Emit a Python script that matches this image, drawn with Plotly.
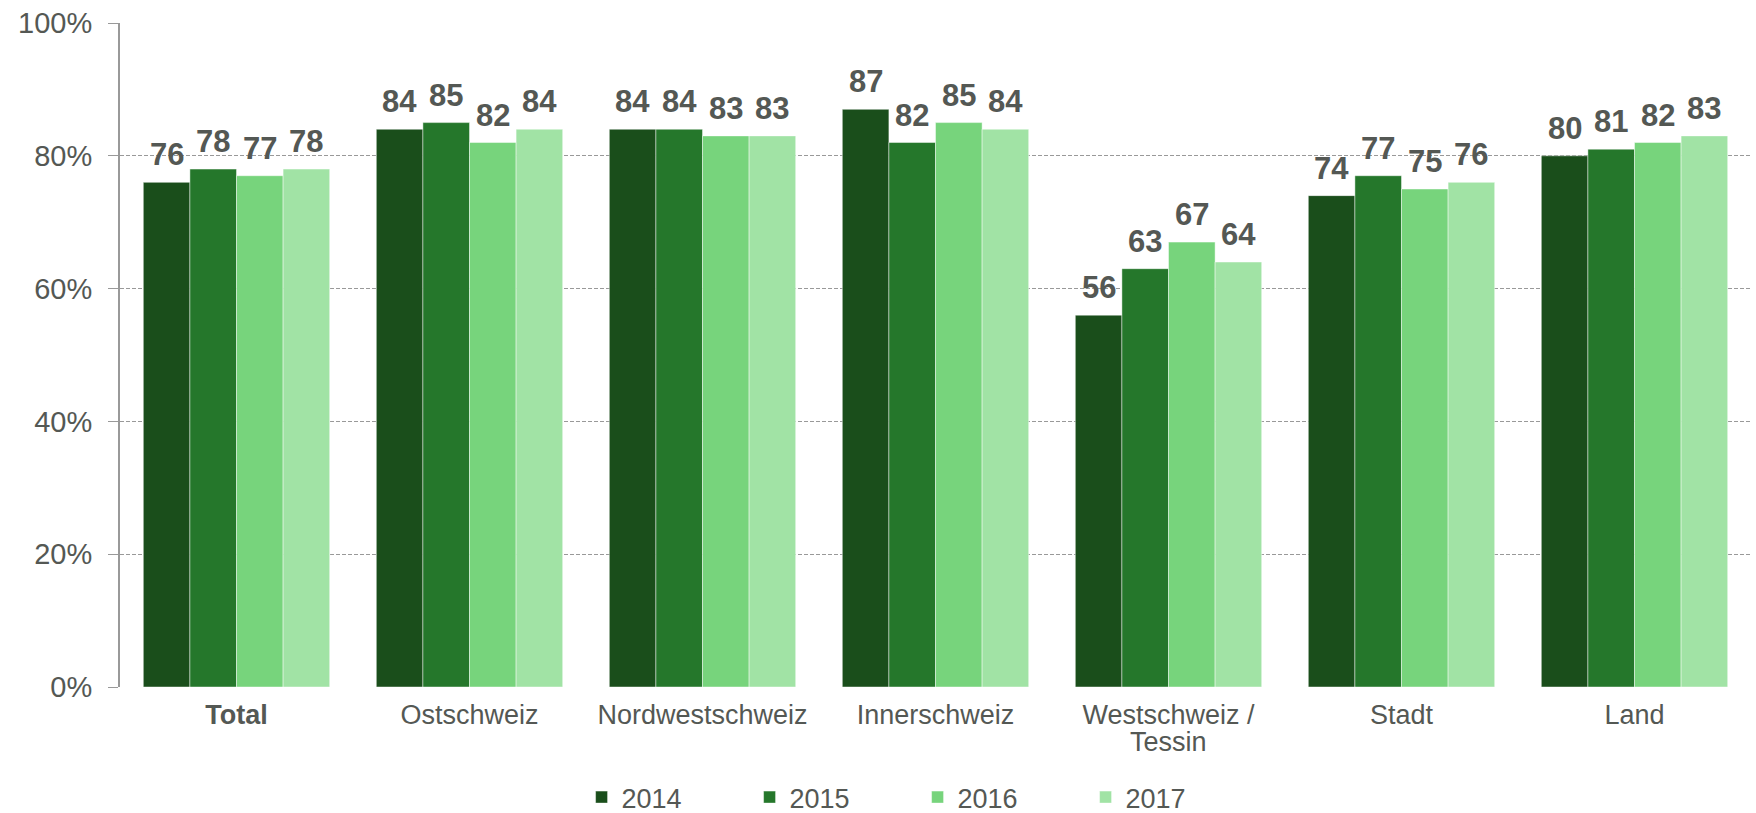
import plotly.graph_objects as go

# Regions and yearly shares (in %)
categories = ["Total", "Ostschweiz", "Nordwestschweiz", "Innerschweiz",
              "Westschweiz / Tessin", "Stadt", "Land"]
tick_labels = ["<b>Total</b>", "Ostschweiz", "Nordwestschweiz", "Innerschweiz",
               "Westschweiz /<br>Tessin", "Stadt", "Land"]
years = ["2014", "2015", "2016", "2017"]
values_2014 = [76, 84, 84, 87, 56, 74, 80]
values_2015 = [78, 85, 84, 82, 63, 77, 81]
values_2016 = [77, 82, 83, 85, 67, 75, 82]
values_2017 = [78, 84, 83, 84, 64, 76, 83]
y_ticks = [0, 20, 40, 60, 80, 100]
y_tick_labels = ["0%", "20%", "40%", "60%", "80%", "100%"]

series = [values_2014, values_2015, values_2016, values_2017]
colors = ["#1A4E1B", "#25772B", "#77D47C", "#A1E3A5"]

FONT = "Liberation Sans, Arial, sans-serif"
TEXT_COLOR = "#545854"
GRID_COLOR = "#999999"
AXIS_FONT_SIZE = 27
LINE_STEP = 27  # vertical distance between lines of a category label

BARGAP = 0.2
n_series = len(series)
bar_w = (1 - BARGAP) / n_series

fig = go.Figure()
x_idx = list(range(len(categories)))
for year, vals, col in zip(years, series, colors):
    fig.add_trace(go.Bar(
        name=year,
        x=x_idx,
        y=vals,
        customdata=categories,
        marker=dict(color=col, line=dict(color="rgba(255,255,255,0.45)", width=1)),
        hovertemplate="%{customdata}<br>" + year + ": %{y}%<extra></extra>",
    ))

annotations = []

# value labels above each bar
for j, vals in enumerate(series):
    offset = (j - (n_series - 1) / 2) * bar_w
    for i, v in enumerate(vals):
        annotations.append(dict(
            x=i + offset, y=v, xref="x", yref="y",
            text=f"<b>{v}</b>", showarrow=False,
            yanchor="bottom", yshift=8,
            font=dict(family=FONT, size=31, color=TEXT_COLOR),
        ))

# first line of each category label goes on the axis, further lines below it
first_lines = []
for i, lab in enumerate(tick_labels):
    parts = lab.split("<br>")
    first_lines.append(parts[0])
    for k, extra in enumerate(parts[1:], start=1):
        annotations.append(dict(
            x=i, y=0, xref="x", yref="paper",
            text=extra, showarrow=False,
            yanchor="middle", yshift=-(28 + k * LINE_STEP),
            font=dict(family=FONT, size=AXIS_FONT_SIZE, color=TEXT_COLOR),
        ))

fig.update_layout(
    width=1756, height=813,
    margin=dict(l=120, r=5, t=23, b=126, autoexpand=False),
    paper_bgcolor="white", plot_bgcolor="white",
    barmode="group", bargap=BARGAP, bargroupgap=0,
    font=dict(family=FONT, color=TEXT_COLOR),
    annotations=annotations,
    legend=dict(
        orientation="h",
        x=0.283, xanchor="left",
        yref="container", y=0.019, yanchor="middle",
        entrywidth=123, entrywidthmode="pixels",
        font=dict(family=FONT, size=AXIS_FONT_SIZE, color=TEXT_COLOR),
        bgcolor="rgba(0,0,0,0)",
    ),
    xaxis=dict(
        tickmode="array", tickvals=x_idx, ticktext=first_lines,
        range=[-0.5, len(categories) - 0.5],
        tickfont=dict(family=FONT, size=AXIS_FONT_SIZE, color=TEXT_COLOR),
        showgrid=False, showline=False, ticks="", zeroline=False,
        ticklabelstandoff=9,
    ),
    yaxis=dict(
        range=[0, 100],
        tickmode="array", tickvals=y_ticks, ticktext=y_tick_labels,
        tickfont=dict(family=FONT, size=29, color=TEXT_COLOR),
        showgrid=True, gridcolor=GRID_COLOR, griddash="4px,2px", gridwidth=1.3,
        zeroline=False,
        showline=True, linecolor=GRID_COLOR, linewidth=2,
        ticks="outside", ticklen=10, tickcolor=GRID_COLOR, tickwidth=1.3,
        ticklabelstandoff=10,
    ),
)

fig.write_html("out.html")
